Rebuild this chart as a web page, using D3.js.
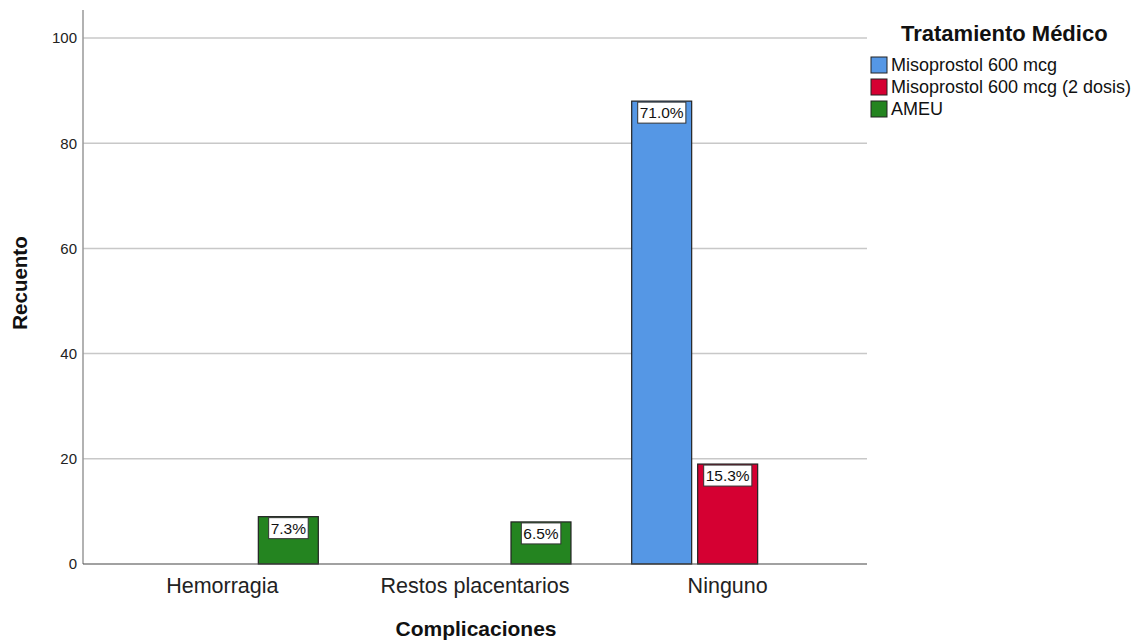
<!DOCTYPE html>
<html><head><meta charset="utf-8">
<script src="https://cdn.jsdelivr.net/npm/d3@7"></script>
<style>body{margin:0;background:#fff;}svg{display:block;font-family:Arial,"Liberation Sans",sans-serif;}</style>
</head><body>
<svg id="c" width="1139" height="642"></svg>
<script>
const categories = ["Hemorragia", "Restos placentarios", "Ninguno"];
const seriesNames = ["Misoprostol 600 mcg", "Misoprostol 600 mcg (2 dosis)", "AMEU"];
const seriesColors = ["#5597E5", "#D50032", "#248420"];
// counts per category for each series (null = absent)
const misoprostol = [null, null, 88];
const misoprostol2 = [null, null, 19];
const ameu = [9, 8, null];
const percentLabels = [[null, null, "71.0%"], [null, null, "15.3%"], ["7.3%", "6.5%", null]];
const yTicks = [0, 20, 40, 60, 80, 100];

const values = [misoprostol, misoprostol2, ameu];
const svg = d3.select("#c");
const mLeft = 83, mRight = 867, mTop = 10, mBottom = 564;

const x = d3.scaleBand().domain(categories).range([96, 854]).paddingInner(0).paddingOuter(0);
const xs = d3.scaleBand().domain(d3.range(3)).range([0, x.bandwidth()]).paddingInner(0.091).paddingOuter(0.46);
const y = d3.scaleLinear().domain([0, 100]).range([mBottom, 38]);

// grid
svg.append("g").selectAll("line").data(yTicks.filter(d => d > 0)).join("line")
  .attr("x1", mLeft).attr("x2", mRight).attr("y1", d => y(d)).attr("y2", d => y(d))
  .attr("stroke", "#c8c8c8").attr("stroke-width", 1.5);

// y axis
const ya = svg.append("g").attr("transform", `translate(${mLeft},0)`)
  .call(d3.axisLeft(y).tickValues(yTicks).tickSize(0).tickPadding(6));
ya.select(".domain").remove();
ya.selectAll("text").attr("font-size", 15).attr("fill", "#222").attr("font-family", "Arial,'Liberation Sans',sans-serif");
svg.append("line").attr("x1", mLeft).attr("x2", mLeft).attr("y1", mTop).attr("y2", mBottom).attr("stroke", "#999").attr("stroke-width", 1.5);

// bars
const bars = [];
values.forEach((arr, s) => arr.forEach((v, i) => { if (v != null) bars.push({s, i, v, label: percentLabels[s][i]}); }));
const g = svg.append("g");
g.selectAll("rect").data(bars).join("rect")
  .attr("x", d => x(categories[d.i]) + xs(d.s))
  .attr("width", xs.bandwidth())
  .attr("y", d => y(d.v))
  .attr("height", d => y(0) - y(d.v))
  .attr("fill", d => seriesColors[d.s])
  .attr("stroke", "#222").attr("stroke-width", 1.2);

// labels
const lg = svg.append("g");
bars.forEach(d => {
  const cx = x(categories[d.i]) + xs(d.s) + xs.bandwidth() / 2;
  const t = lg.append("text").attr("x", cx).attr("y", y(d.v) + 17).attr("text-anchor", "middle")
    .attr("font-size", 15.5).attr("fill", "#111").text(d.label);
  const bb = t.node().getBBox();
  lg.insert("rect", "text").attr("x", bb.x - 2).attr("y", y(d.v) + 1).attr("width", bb.width + 4).attr("height", 21)
    .attr("fill", "#fff").attr("stroke", "#333").attr("stroke-width", 1);
});

// x axis baseline
svg.append("line").attr("x1", mLeft).attr("x2", mRight).attr("y1", mBottom).attr("y2", mBottom).attr("stroke", "#444").attr("stroke-width", 1.2);
const xa = svg.append("g").attr("transform", `translate(0,${mBottom})`).call(d3.axisBottom(x).tickSize(0).tickPadding(14));
xa.select(".domain").remove();
xa.selectAll("text").attr("font-size", 21.5).attr("fill", "#222").attr("font-family", "Arial,'Liberation Sans',sans-serif");

// axis titles
svg.append("text").attr("x", 476).attr("y", 636).attr("text-anchor", "middle").attr("font-size", 21).attr("font-weight", "bold").attr("fill", "#111").text("Complicaciones");
svg.append("text").attr("transform", "translate(27,283) rotate(-90)").attr("text-anchor", "middle").attr("font-size", 20.5).attr("font-weight", "bold").attr("fill", "#111").text("Recuento");

// legend
svg.append("text").attr("x", 901).attr("y", 41).attr("font-size", 22).attr("font-weight", "bold").attr("fill", "#111").text("Tratamiento Médico");
const leg = svg.append("g").selectAll("g").data(seriesNames).join("g")
  .attr("transform", (d, i) => `translate(871,${57 + i * 22})`);
leg.append("rect").attr("width", 16).attr("height", 16).attr("fill", (d, i) => seriesColors[i]).attr("stroke", "#222").attr("stroke-width", 1);
leg.append("text").attr("x", 20).attr("y", 14).attr("font-size", 18).attr("fill", "#111").text(d => d);
</script>
</body></html>
